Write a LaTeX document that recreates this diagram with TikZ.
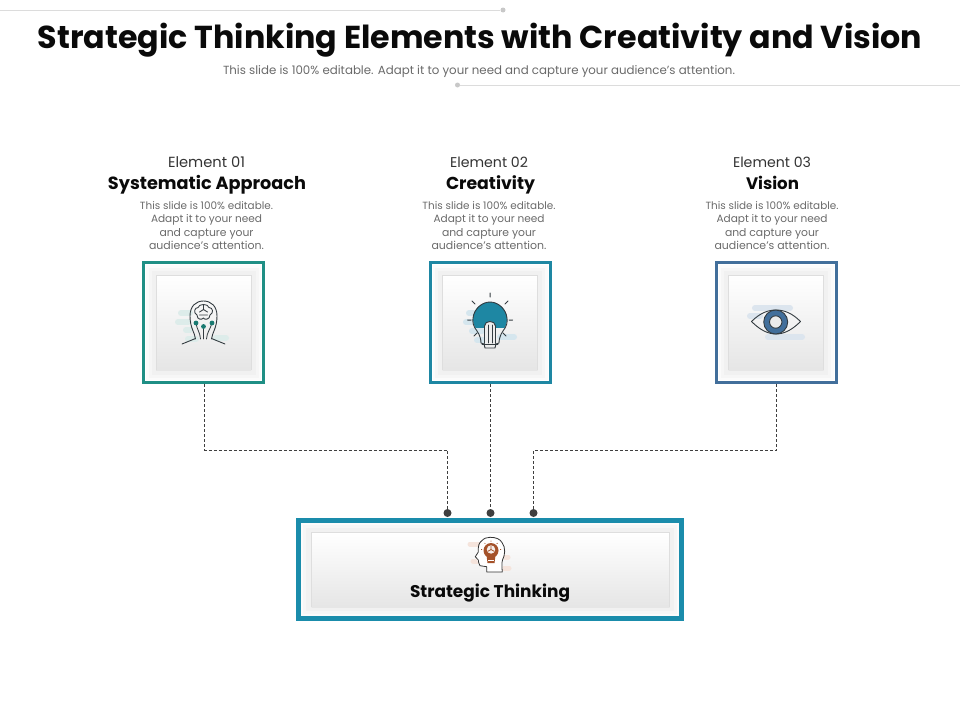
\documentclass[tikz,border=0pt]{standalone}
\usepackage{fontspec}
\setmainfont{Poppins}
\usepackage{graphicx}
\definecolor{ttl}{HTML}{0A0A0A}
\definecolor{txt}{HTML}{333333}
\definecolor{sub}{HTML}{6A6A6A}
\definecolor{rule}{HTML}{DCDCDC}
\definecolor{ruledot}{HTML}{C8C8C8}
\definecolor{tealA}{HTML}{1F8F85}
\definecolor{tealB}{HTML}{1E87A3}
\definecolor{blueC}{HTML}{426F9B}
\definecolor{tealD}{HTML}{1A8CAB}
\definecolor{ink}{HTML}{333B40}
\definecolor{conn}{HTML}{3F3F3F}
\definecolor{paleA}{HTML}{DDECEA}
\definecolor{paleB}{HTML}{D5E6EE}
\definecolor{paleC}{HTML}{DCE5EE}
\definecolor{paleD}{HTML}{F5E4DC}
\definecolor{rust}{HTML}{A5522A}
\newcommand{\fitw}[2]{\resizebox{#1pt}{!}{#2}}
\tikzset{
  x=1pt,y=-1pt,
  lbl/.style={anchor=base,inner sep=0pt,outer sep=0pt},
  elem/.style={lbl,text=txt},
  head/.style={lbl,text=ttl,font=\bfseries},
  desc/.style={lbl,text=sub},
  card/.style={draw=#1,line width=3pt,fill=white,minimum width=120pt,minimum height=120pt,inner sep=0pt},
  wide/.style={draw=tealD,line width=5pt,fill=white,minimum width=383pt,minimum height=98pt,inner sep=0pt},
  panel/.style={top color=white,bottom color=white!90!black},
  panelline/.style={draw=white!87!black,line width=0.7pt},
  glowa/.style={fill=white!98.5!black},
  glowb/.style={fill=white!96.5!black},
  glowc/.style={fill=white!94.5!black},
  dotn/.style={circle,fill=conn,inner sep=0pt,minimum size=8pt},
  link/.style={draw=conn,line width=0.8pt,dash pattern=on 3pt off 2pt},
  rulel/.style={draw=rule,line width=1pt},
  ruled/.style={circle,fill=ruledot,inner sep=0pt,minimum size=5pt},
  icon/.style={draw=ink,line width=0.9pt,line cap=round,line join=round},
  blob/.style={line width=6pt,line cap=round},
}
\newcommand{\cardlayers}[2]{%
  \fill[glowa] (#1-57.5,#2-57.5) rectangle (#1+57.5,#2+57.5);
  \fill[glowb] (#1-55,#2-55) rectangle (#1+55,#2+55);
  \fill[glowc] (#1-52,#2-52) rectangle (#1+52,#2+52);
  \fill[panel] (#1-47.5,#2-47.5) rectangle (#1+47.5,#2+47.5);
  \draw[panelline] (#1-47.5,#2+47.5) -- (#1-47.5,#2-47.5) -- (#1+47.5,#2-47.5) -- (#1+47.5,#2+47.5);
}
\newcommand{\descblock}[2]{%
  \node[desc] (#1a) at (#2,209) {\fitw{133}{This slide is 100\% editable.}};
  \node[desc] (#1b) at (#2,222) {\fitw{111}{Adapt it to your need}};
  \node[desc] (#1c) at (#2,236) {\fitw{94}{and capture your}};
  \node[desc] (#1d) at (#2,249) {\fitw{115}{audience's attention.}};
}
\begin{document}
\begin{tikzpicture}
\useasboundingbox (0,0) rectangle (960,720);
% decorative rules
\node[ruled] (rt) at (503,10) {};
\coordinate (rtl) at (0,10);
\draw[rulel] (rtl) -- (rt);
\node[ruled] (rb) at (457.5,85) {};
\coordinate (rbr) at (960,85);
\draw[rulel] (rb) -- (rbr);
% title
\node[lbl,text=ttl,font=\bfseries] (title) at (480,48.5) {\fitw{884}{Strategic Thinking Elements with Creativity and Vision}};
\node[lbl,text=sub] (subt) at (479,74) {\fitw{512}{This slide is 100\% editable. Adapt it to your need and capture your audience's attention.}};
% column headings
\node[elem] (e1) at (206.5,167) {\fitw{77}{Element 01}};
\node[head] (h1) at (207,189) {\fitw{198}{Systematic Approach}};
\descblock{da}{206.5}
\node[elem] (e2) at (489,167) {\fitw{78}{Element 02}};
\node[head] (h2) at (490.5,189) {\fitw{89}{Creativity}};
\descblock{db}{489}
\node[elem] (e3) at (772,167) {\fitw{78}{Element 03}};
\node[head] (h3) at (772.5,189) {\fitw{53}{Vision}};
\descblock{dc}{772}
% cards
\node[card=tealA] (b1) at (203.5,322.5) {};
\cardlayers{203.5}{322.5}
\node[card=tealB] (b2) at (490,322.5) {};
\cardlayers{490}{322.5}
\node[card=blueC] (b3) at (776,322.5) {};
\cardlayers{776}{322.5}
% bottom card
\node[wide] (bt) at (490,569.5) {};
\fill[glowa] (301,523) rectangle (679,616);
\fill[glowb] (303,525) rectangle (677,614);
\fill[glowc] (306,528) rectangle (674,611);
\fill[panel] (311.5,532.5) rectangle (669.5,607);
\draw[panelline] (311.5,607) -- (311.5,532.5) -- (669.5,532.5) -- (669.5,607);
\node[head] (st) at (490,597) {\fitw{160}{Strategic Thinking}};
% connectors
\node[dotn] (d1) at (447.5,513) {};
\node[dotn] (d2) at (490.5,513) {};
\node[dotn] (d3) at (533.5,513) {};
\coordinate (s1) at (204.5,384);
\coordinate (s3) at (776.5,384);
\coordinate (c1) at (447.5,450);
\coordinate (c3) at (533.5,450);
\draw[link] (s1) |- (c1) -- (d1);
\draw[link] (b2.south -| d2) -- (d2);
\draw[link] (s3) |- (c3) -- (d3);
% icon 1: brain head
\draw[blob,paleA] (181,313) -- (190,313) (178,322) -- (188,322) (186,330) -- (190,330) (216,338) -- (226,338) (188,339) -- (196,339);
\draw[icon] (195.5,339) .. controls (195,333) and (190,328) .. (190,316)
  .. controls (190,306) and (196,301) .. (203.5,301)
  .. controls (211,301) and (217,306) .. (217,316)
  .. controls (217,328) and (212,333) .. (211.5,339);
\draw[icon] (182,344) -- (195.5,338.5) (225,344) -- (211.5,338.5);
\draw[icon,line width=0.85pt] (197,315) .. controls (193,313) and (194.5,307.5) .. (198,307.5) .. controls (199,303.5) and (208,303.5) .. (209,307.5) .. controls (213,307.5) and (214,313) .. (210,315) .. controls (210,320) and (204,320) .. (203.5,318) .. controls (202,320) and (197,320) .. (197,315);
\draw[icon,line width=0.85pt] (199.5,312) -- (203.5,309.5) -- (207.5,312) (199.5,315) -- (207.5,315) (203.5,304.5) -- (203.5,309.5);
\draw[icon,line width=0.8pt] (196,323) .. controls (197,330) and (200,332) .. (200.5,339);
\draw[icon,line width=0.8pt] (203.5,326) -- (203.5,339);
\draw[icon,line width=0.8pt] (212,323) .. controls (210,330) and (207,332) .. (206.5,339);
\fill[tealA!85!black] (196,323) circle (2.4) (203.5,326.5) circle (2.4) (212,323) circle (2.4);
% icon 2: bulb
\draw[blob,paleB] (469,313) -- (480,313) (466,322) -- (474,322) (472,331) -- (482,331) (500,337) -- (514,337) (477,340) -- (486,340);
\begin{scope}
\clip (470,300) rectangle (510,327);
\fill[tealB] (490,319) circle (17);
\end{scope}
\draw[icon] (477,331) .. controls (473,326) and (472.5,322) .. (473,318) .. controls (474,309) and (482,302) .. (490,302)
  .. controls (498,302) and (506,309) .. (507,318) .. controls (507.5,322) and (507,326) .. (503,331)
  .. controls (500,335) and (499,340) .. (499,343) -- (496,344) -- (495,348) -- (485,348) -- (484,344) -- (481,343)
  .. controls (481,340) and (480,335) .. (477,331);
\fill[white!93!black] (484.5,343.5) -- (484.5,326) .. controls (484.5,320) and (495.5,320) .. (495.5,326) -- (495.5,343.5) -- cycle;
\draw[icon] (484.5,343.5) -- (484.5,326) .. controls (484.5,320) and (495.5,320) .. (495.5,326) -- (495.5,343.5);
\draw[icon,line width=0.7pt] (488.5,325) -- (488.5,343) (492,325) -- (492,343) (482,344) -- (498,344);
\draw[icon,line width=1pt] (490,297) -- (490,293) (475,304) -- (472,301) (505,304) -- (508,301) (467.5,320) -- (471,320) (509,320) -- (512.5,320) (474,336) -- (477,333) (506,336) -- (503,333);
% icon 3: eye
\draw[blob,paleC] (755,308) -- (790,308) (750,316) -- (760,316) (768,337) -- (802,337);
\draw[icon] (751.5,321.5) .. controls (760,313) and (768,310) .. (776,310) .. controls (784,310) and (792,313) .. (800.5,321.5)
  .. controls (792,330) and (784,334) .. (776,334) .. controls (768,334) and (760,330) .. (751.5,321.5) -- cycle;
\fill[blueC] (775.7,322) circle (12);
\draw[icon] (775.7,322) circle (12);
\fill[white!92!black] (775.7,322) circle (6.2);
\draw[icon] (775.7,322) circle (6.2);
% icon 4: head with bulb
\draw[blob,paleD,line width=5pt] (470,544) -- (484,544) (473,561) -- (479,561) (505,557) -- (508,557) (492,568) -- (509,568);
\fill[white] (486.7,572) -- (486.7,566.7) -- (480,565.7) -- (475.3,556.7) -- (481,541.5) -- (490,537.3) -- (502,542.5) -- (504,552) -- (502.3,572) -- cycle;
\draw[icon,draw=txt,line width=0.8pt] (486.7,572) -- (486.7,566.7) -- (480,565.7) .. controls (478,564) and (479,561) .. (478.3,560)
  -- (475.3,556.7) -- (478.3,552) .. controls (478,546) and (479,543) .. (481,541.5)
  .. controls (484,538) and (487,537.3) .. (490,537.3) .. controls (496,537.3) and (500,539) .. (502,542.5)
  .. controls (506,548) and (505,555) .. (502.5,560) .. controls (501.5,563) and (502,568) .. (502.3,572) -- cycle;
\fill[rust] (491,550.5) circle (7.5);
\fill[rust] (486.5,555) -- (495.5,555) -- (494.5,563) -- (487.5,563) -- cycle;
\fill[white!90!rust] (491,549.5) circle (4.2);
\draw[rust,line width=0.8pt] (491,549.5) -- (491,546) (491,549.5) -- (488,551.2) (491,549.5) -- (494,551.2);
\draw[rust,line width=0.7pt] (491,540.5) -- (491,541.5) (482,549.5) -- (481,549.5) (500,549.5) -- (501,549.5) (484.5,543) -- (485.3,543.8) (497.5,543) -- (496.7,543.8);
\draw[white,line width=0.5pt] (488,560) -- (494,560);
\end{tikzpicture}
\end{document}
